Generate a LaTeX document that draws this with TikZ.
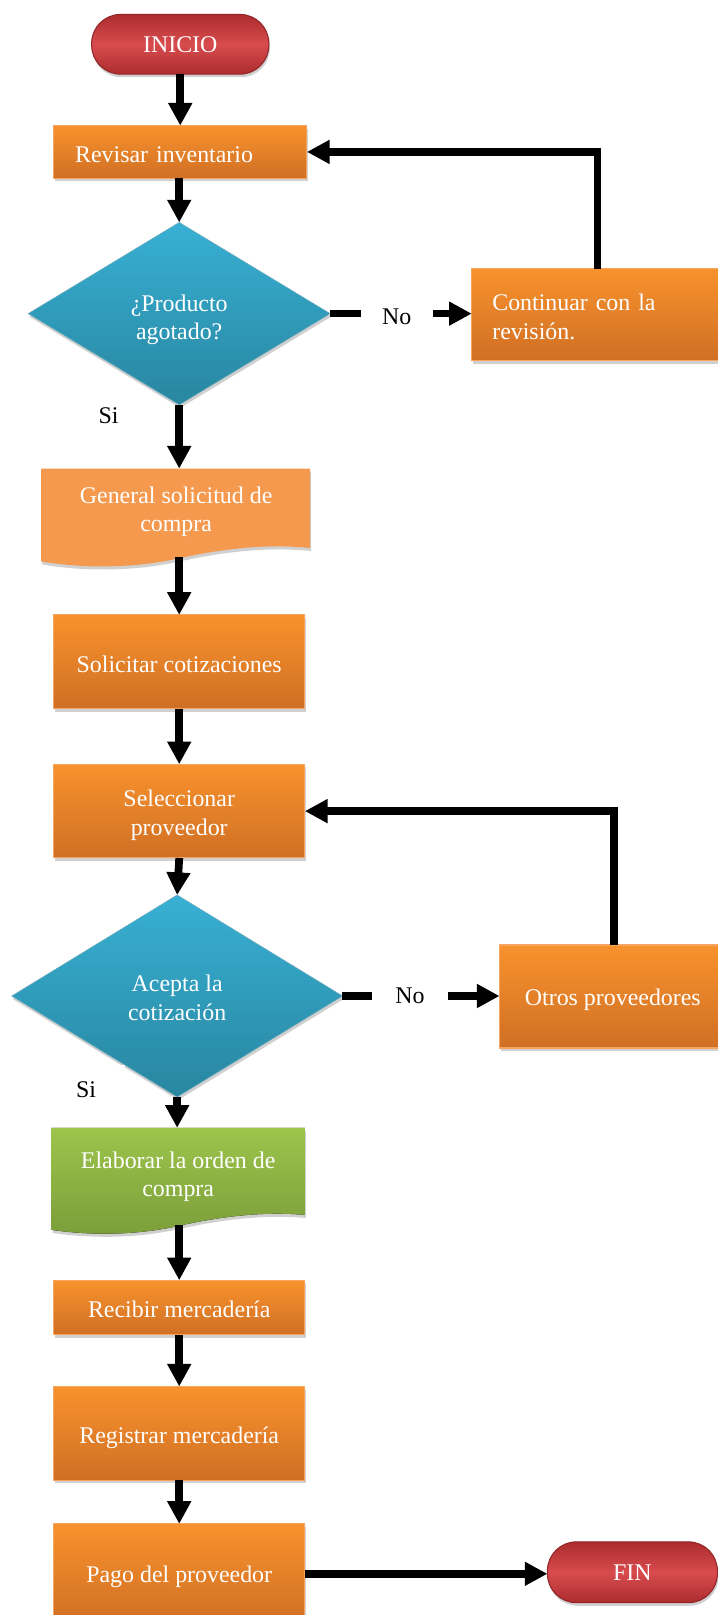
\documentclass[tikz,border=0pt]{standalone}
\usepackage{fontspec}
\setmainfont{Liberation Serif}
\usetikzlibrary{arrows.meta,shapes.geometric,shadows}
\definecolor{orT}{RGB}{248,146,45}
\definecolor{orB}{RGB}{208,111,36}
\definecolor{orEdge}{RGB}{245,165,95}
\definecolor{blT}{RGB}{56,176,212}
\definecolor{blB}{RGB}{40,134,160}
\definecolor{rdM}{RGB}{216,76,78}
\definecolor{rdB}{RGB}{172,44,46}
\definecolor{grT}{RGB}{157,196,76}
\definecolor{grB}{RGB}{123,158,57}
\definecolor{docor}{RGB}{245,153,78}
\begin{document}
\begin{tikzpicture}[x=1pt,y=-1pt,
  txt/.style={font=\fontsize{23.2}{28}\selectfont},
  oneline/.style={text height=20pt, text depth=0pt},
  twoline/.style={text height=48pt, text depth=0pt},
  shad/.style={drop shadow={shadow xshift=1pt,shadow yshift=-3pt,opacity=.3,fill=black!60}},
  procbox/.style={rectangle, txt, text=white, inner sep=0pt, outer sep=0pt, minimum width=244pt, top color=orT, bottom color=orB, draw=orEdge, line width=1pt, shad, align=center},
  decision/.style={diamond, txt, text=white, inner sep=0pt, outer sep=0pt, top color=blT, bottom color=blB, draw=blB!70!white, line width=.6pt, shad, align=center},
  terminal/.style={rectangle, rounded corners=28pt, txt, text=white, inner sep=0pt, outer sep=0pt, top color=rdB, bottom color=rdB, middle color=rdM, draw=rdB!85!black, line width=1pt, shad},
  doctext/.style={rectangle, txt, text=white, inner sep=0pt, outer sep=0pt, align=center},
  flow/.style={line width=7.5pt, -{Triangle[length=22pt,width=22pt]}},
  lbl/.style={txt, text=black, fill=white, inner sep=0pt},
]
\fill[white] (0,0) rectangle (697,1568);
\useasboundingbox (0,0) rectangle (697,1568);

% nodes
\node[terminal, minimum width=172pt, minimum height=58pt] (inicio) at (175,43) {INICIO};
\node[procbox, oneline, minimum width=246pt, minimum height=51pt, align=left, text width=204pt, inner xsep=21pt] (rev) at (175,147.5) {Revisar inventario};
\node[decision, text height=51pt, text depth=0pt, minimum width=293pt, minimum height=177pt] (d1) at (174,304.5) {¿Producto\\agotado?};
\node[procbox, text height=20pt, text depth=28pt, minimum width=247pt, minimum height=89pt, align=left, text width=207pt, inner xsep=20pt] (cont) at (581.5,305.5) {Continuar con la\\revisión.};

\fill[docor, shad] (40,455) -- (301,455) -- (301,532) .. controls (260,528) and (220,532) .. (174,542) .. controls (130,552) and (80,552) .. (40,545) -- cycle;
\node[doctext, twoline, anchor=north, minimum width=261pt, minimum height=75pt] (gen) at (171,455) {General solicitud de\\compra};
\coordinate (genbot) at (174,541);

\node[procbox, oneline, minimum height=91pt] (sol) at (174,642.5) {Solicitar cotizaciones};
\node[procbox, twoline, minimum height=91pt] (sel) at (174,787.5) {Seleccionar\\proveedor};
\node[decision, text height=47pt, text depth=0pt, minimum width=321pt, minimum height=196pt] (d2) at (172,967) {Acepta la\\cotización};
\node[procbox, text height=18pt, text depth=0pt, minimum width=220pt, minimum height=100pt] (otros) at (595,967.5) {Otros proveedores};

\fill[top color=grT, bottom color=grB, shad] (50,1095) -- (296,1095) -- (296,1179.5) .. controls (255,1176) and (215,1181) .. (174,1190) .. controls (135,1199) and (90,1200) .. (50,1194) -- cycle;
\node[doctext, twoline, anchor=north, minimum width=246pt, minimum height=86pt] (elab) at (173,1095) {Elaborar la orden de\\compra};
\coordinate (elabbot) at (174,1189);

\node[procbox, oneline, minimum height=53pt] (rec) at (174,1269.5) {Recibir mercadería};
\node[procbox, oneline, minimum height=91pt] (reg) at (174,1391.7) {Registrar mercadería};
\node[procbox, text height=17pt, text depth=0pt, minimum height=97pt] (pago) at (174,1528) {Pago del proveedor};
\node[terminal, minimum width=165pt, minimum height=59pt] (fin) at (614,1526.5) {FIN};

\node[lbl, anchor=north east, minimum height=50pt, text width=40pt, align=left, inner xsep=12pt] (si1) at (148,378) {Si};
\node[lbl, anchor=north east, minimum height=48pt, text width=36pt, align=left, inner xsep=12pt] (si2) at (122,1034) {Si};

% connectors
\draw[flow] (inicio) -- (rev);
\draw[flow] (rev.south -| d1.north) -- (d1.north);
\draw[flow] (d1.east) -- node[lbl, minimum width=70pt, pos=.47, yshift=-3pt] (no1) {No} (d1.east -| cont.west);
\draw[flow] ([xshift=-1.5pt]cont.north) |- (rev.east);
\draw[flow] (d1.south) -- (d1.south |- gen.north);
\draw[flow] (genbot) -- (genbot |- sol.north);
\draw[flow] (sol) -- (sel);
\draw[flow] (sel.south) -- (d2.north);
\draw[flow] (d2.east) -- node[lbl, minimum width=73pt, pos=.43] (no2) {No} (d2.east -| otros.west);
\draw[flow] ([xshift=1pt]otros.north) |- (sel.east);
\draw[flow] (d2.south) -- (d2.south |- elab.north);
\draw[flow] (elabbot) -- (elabbot |- rec.north);
\draw[flow] (rec) -- (reg);
\draw[flow] (reg) -- (pago);
\draw[flow] (pago.east) -- (pago.east -| fin.west);
\end{tikzpicture}
\end{document}
